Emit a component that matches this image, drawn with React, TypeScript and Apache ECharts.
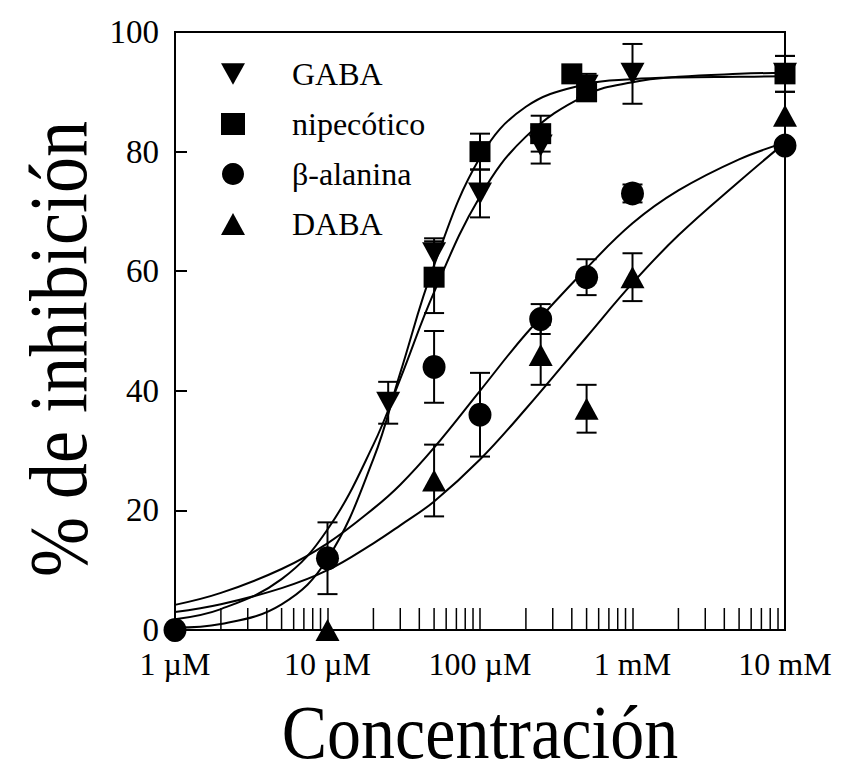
import React, { useEffect, useRef } from "react";
import * as echarts from "echarts";

// Measured points (concentration in µM, % inhibition, ± error)
const gabaX = [25, 50, 100, 250, 500, 1000, 10000];
const gabaY = [38, 63, 73, 81, 91, 93, 93];
const gabaErr = [3.5, 2.5, 4, 3, 2, 5, 3];

const nipX = [50, 100, 250, 400, 500, 10000];
const nipY = [59, 80, 83, 93, 90, 93];
const nipErr = [6, 3, 3, 0, 1, 3];

const betaX = [1, 10, 50, 100, 250, 500, 1000, 10000];
const betaY = [0, 12, 44, 36, 52, 59, 73, 81];
const betaErr = [0, 6, 6, 7, 2.5, 3, 1.5, 0];

const dabaX = [10, 50, 250, 500, 1000, 10000];
const dabaY = [0, 25, 46, 37, 59, 86];
const dabaErr = [0, 6, 5, 4, 4, 0];

// Fitted curves
const curveX = [1, 2, 5, 10, 20, 30, 50, 100, 200, 500, 1000, 2000, 5000, 10000];
const gabaFit = [1.8, 3.5, 8.5, 16.8, 31, 42, 56.5, 72.5, 82.5, 89.5, 91.6, 92.5, 93, 93.2];
const nipFit = [0.4, 1.0, 4.3, 11.9, 28.6, 43, 61, 79, 87.5, 91.3, 92.1, 92.4, 92.5, 92.6];
const betaFit = [4.2, 6.2, 10.2, 14.5, 20.3, 24.3, 30.5, 40, 49.5, 60.5, 68, 73.5, 78.7, 81.5];
const dabaFit = [3, 4.3, 7, 10, 14.5, 17.5, 21.5, 28.5, 37, 49, 58, 66, 75, 81.5];

// Axis ticks and labels
const xTickValues = [1, 10, 100, 1000, 10000];
const xTickLabels = ["1 µM", "10 µM", "100 µM", "1 mM", "10 mM"];
const minorTickValues = [
  2, 3, 4, 5, 6, 7, 8, 9,
  20, 30, 40, 50, 60, 70, 80, 90,
  200, 300, 400, 500, 600, 700, 800, 900,
  2000, 3000, 4000, 5000, 6000, 7000, 8000, 9000,
];

const seriesNames = ["GABA", "nipecótico", "β-alanina", "DABA"];

const FONT = '"Liberation Serif", "Times New Roman", serif';
const DOWN_TRI = "path://M0,0L20,0L10,18Z";

function pairs(xs: number[], ys: number[]) {
  return xs.map((x, i) => [x, ys[i]]);
}
function errData(xs: number[], ys: number[], es: number[]) {
  return xs
    .map((x, i) => [x, ys[i] - es[i], ys[i] + es[i]])
    .filter((d) => d[2] - d[1] > 0);
}

const errRender = (params: any, api: any) => {
  const x = api.value(0);
  const lo = api.coord([x, api.value(1)]);
  const hi = api.coord([x, api.value(2)]);
  const w = 10;
  const st = { stroke: "#000", lineWidth: 2 };
  return {
    type: "group",
    children: [
      { type: "line", shape: { x1: lo[0], y1: lo[1], x2: hi[0], y2: hi[1] }, style: st },
      { type: "line", shape: { x1: lo[0] - w, y1: lo[1], x2: lo[0] + w, y2: lo[1] }, style: st },
      { type: "line", shape: { x1: hi[0] - w, y1: hi[1], x2: hi[0] + w, y2: hi[1] }, style: st },
    ],
  };
};

const minorRender = (params: any, api: any) => {
  const p = api.coord([api.value(0), 0]);
  return {
    type: "line",
    shape: { x1: p[0], y1: p[1], x2: p[0], y2: p[1] - 22 },
    style: { stroke: "#000", lineWidth: 1.5 },
  };
};

export default function App() {
  const ref = useRef<HTMLDivElement>(null);

  useEffect(() => {
    if (!ref.current) return;
    const chart = echarts.init(ref.current, null, { renderer: "svg" });

    const errSeries = (xs: number[], ys: number[], es: number[]) => ({
      type: "custom",
      renderItem: errRender,
      data: errData(xs, ys, es),
      encode: { x: 0, y: [1, 2] },
      z: 2,
      silent: true,
      clip: false,
    });
    const fitSeries = (ys: number[]) => ({
      type: "line",
      data: pairs(curveX, ys),
      smooth: 0.4,
      showSymbol: false,
      symbol: "none",
      lineStyle: { color: "#000", width: 2 },
      z: 1,
      silent: true,
    });
    const scatter = (name: string, xs: number[], ys: number[], symbol: string, size: any) => ({
      name,
      type: "scatter",
      data: pairs(xs, ys),
      symbol,
      symbolSize: size,
      itemStyle: { color: "#000", opacity: 1 },
      z: 3,
      clip: false,
    });

    chart.setOption({
      animation: false,
      backgroundColor: "#fff",
      grid: {
        left: 175,
        right: 61,
        top: 32,
        bottom: 146,
        show: true,
        borderColor: "#000",
        borderWidth: 2,
      },
      legend: {
        orient: "vertical",
        left: 216,
        top: 53,
        itemWidth: 24,
        itemHeight: 22,
        itemGap: 18,
        data: seriesNames,
        itemStyle: { opacity: 1 },
        textStyle: { fontFamily: FONT, fontSize: 32, color: "#000", padding: [0, 0, 0, 42] },
      },
      xAxis: {
        type: "log",
        logBase: 10,
        min: 1,
        max: 10000,
        axisLine: { show: true, lineStyle: { color: "#000", width: 2 } },
        axisTick: { show: true, inside: true, length: 22, lineStyle: { color: "#000", width: 1.5 } },
        splitLine: { show: false },
        minorTick: { show: false },
        axisLabel: {
          color: "#000",
          fontFamily: FONT,
          fontSize: 32,
          margin: 18,
          formatter: (v: number) => {
            const i = xTickValues.indexOf(Math.round(v));
            return i >= 0 ? xTickLabels[i] : "";
          },
        },
      },
      yAxis: {
        type: "value",
        min: 0,
        max: 100,
        interval: 20,
        axisLine: { show: true, lineStyle: { color: "#000", width: 2 } },
        axisTick: { show: true, inside: true, length: 12, lineStyle: { color: "#000", width: 2 } },
        splitLine: { show: false },
        axisLabel: { color: "#000", fontFamily: FONT, fontSize: 33, margin: 16 },
      },
      graphic: [
        {
          type: "text",
          x: 58,
          y: 349,
          rotation: Math.PI / 2,
          scaleY: 1.15,
          style: {
            text: "% de inhibición",
            font: `72px ${FONT}`,
            fill: "#000",
            textAlign: "center",
            textVerticalAlign: "middle",
          },
        },
        {
          type: "text",
          x: 480,
          y: 733,
          scaleY: 1.12,
          style: {
            text: "Concentración",
            font: `68px ${FONT}`,
            fill: "#000",
            textAlign: "center",
            textVerticalAlign: "middle",
          },
        },
      ],
      series: [
        fitSeries(gabaFit),
        fitSeries(nipFit),
        fitSeries(betaFit),
        fitSeries(dabaFit),
        errSeries(gabaX, gabaY, gabaErr),
        errSeries(nipX, nipY, nipErr),
        errSeries(betaX, betaY, betaErr),
        errSeries(dabaX, dabaY, dabaErr),
        scatter("GABA", gabaX, gabaY, DOWN_TRI, [24, 22]),
        scatter("nipecótico", nipX, nipY, "rect", [21, 21]),
        scatter("β-alanina", betaX, betaY, "circle", [23, 24]),
        scatter("DABA", dabaX, dabaY, "triangle", [24, 22]),
        {
          type: "custom",
          renderItem: minorRender,
          data: minorTickValues.map((v) => [v, 0]),
          encode: { x: 0, y: 1 },
          z: 4,
          silent: true,
          clip: false,
        },
      ],
    });

    return () => chart.dispose();
  }, []);

  return (
    <div
      ref={ref}
      style={{ position: "fixed", left: 0, top: 0, width: 846, height: 776, background: "#fff" }}
    />
  );
}
